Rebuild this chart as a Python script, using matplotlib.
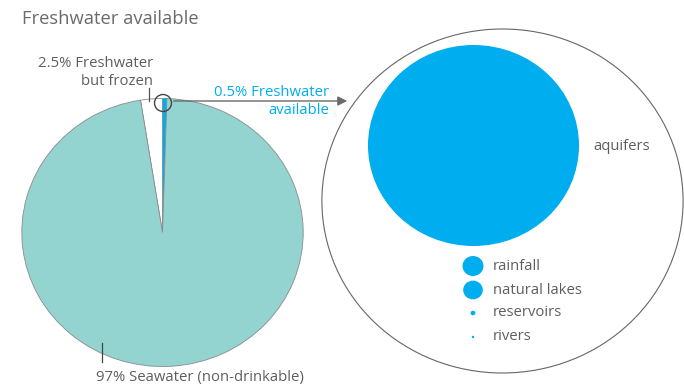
import numpy as np
import matplotlib.pyplot as plt
from matplotlib.patches import Ellipse
from matplotlib.transforms import Affine2D

plt.rcParams['font.family'] = ['Open Sans', 'DejaVu Sans']

# share of all water on earth (%)
water_labels = ['0.5% Freshwater\navailable', '2.5% Freshwater\nbut frozen', '97% Seawater (non-drinkable)']
water_share = [0.5, 2.5, 97]

# available freshwater by source (thousand km3)
sources = ['aquifers', 'rainfall', 'natural lakes', 'reservoirs', 'rivers']
volumes = [10530, 104, 91, 5.5, 1.5]

BLUE = '#00aeef'
TEAL = '#93d4d1'
GREY = '#5e5e5e'
W, H = 684, 385
SX = 1.05  # drawing is slightly wider than tall
FS = 10.7

fig = plt.figure(figsize=(W / 100, H / 100), dpi=100)
ax = fig.add_axes([0, 0, 1, 1])

# main pie; y axis runs downward so angles go the other way
pc = (162.5, 232.5)
wedges, _ = ax.pie(water_share, colors=[BLUE, 'white', TEAL], center=pc, radius=134,
                   startangle=-88.2, counterclock=False,
                   wedgeprops=dict(edgecolor='#8a8a8a', linewidth=0.6))
stretch = Affine2D().translate(-pc[0], 0).scale(SX, 1).translate(pc[0], 0)
for w in wedges:
    w.set_transform(stretch + ax.transData)
wedges[0].set_edgecolor(BLUE)

# zoom ring around the available slice and the arrow
ax.add_patch(Ellipse((163, 103), 17, 17, fill=False, edgecolor='#444444', lw=1.0, zorder=5))
ax.annotate('', xy=(350, 101), xytext=(171, 101),
            arrowprops=dict(arrowstyle='-|>', color='#6a6a6a', lw=1.0, mutation_scale=14))

# big circle holding the available freshwater
bc = (502.5, 201)
ax.add_patch(Ellipse(bc, 2 * 172 * SX, 2 * 172, fill=False, edgecolor='#666666', lw=0.8))

# bubbles sized by volume (area proportional)
r_max = 100.5
centers = [(473.5, 145.5), (473, 266), (473, 290), (473, 313), (473, 337)]
for (x, y), v in zip(centers, volumes):
    r = r_max * np.sqrt(v / volumes[0])
    ax.add_patch(Ellipse((x, y), 2 * r * SX, 2 * r, color=BLUE, lw=0))

ax.text(593, 146, sources[0], color=GREY, fontsize=FS, va='center', ha='left')
for (x, y), name in zip(centers[1:], sources[1:]):
    ax.text(493, y, name, color=GREY, fontsize=FS, va='center', ha='left')

# pie labels
ax.text(22, 19, 'Freshwater available', color='#6b6b6b', fontsize=13.2, va='center', ha='left')
ax.text(153, 72.5, water_labels[1], color=GREY, fontsize=FS, va='center', ha='right',
        linespacing=1.3, multialignment='right')
ax.plot([149, 149], [88, 101], color='#555555', lw=0.9)
ax.text(329, 101.5, water_labels[0], color=BLUE, fontsize=FS, va='center', ha='right',
        linespacing=1.3, multialignment='right')
ax.plot([102, 102], [343, 362], color='#444444', lw=0.9)
ax.text(96, 377, water_labels[2], color=GREY, fontsize=FS, va='center', ha='left')

ax.set_xlim(0, W)
ax.set_ylim(H, 0)
ax.set_aspect('auto')
ax.axis('off')

fig.savefig('out.png', dpi=100)
